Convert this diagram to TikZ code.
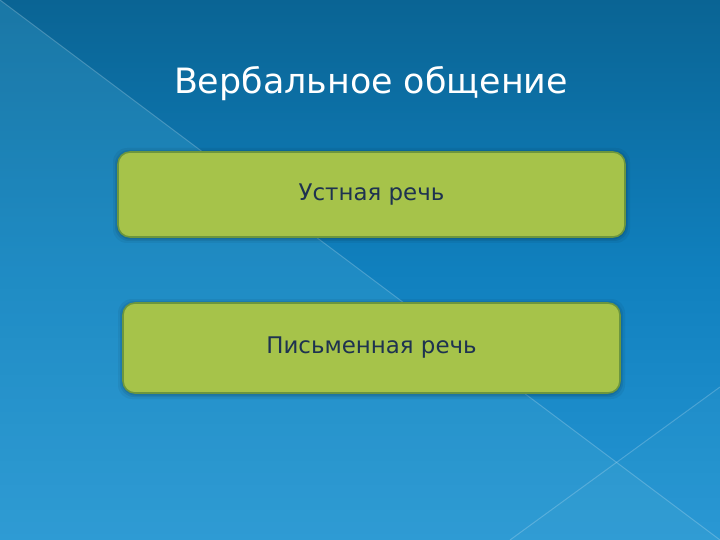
\documentclass[tikz,border=0pt]{standalone}
\usepackage{fontspec}
\setmainfont{DejaVu Sans}
\definecolor{bgtop}{RGB}{10,100,148}
\definecolor{bgmid}{RGB}{16,128,190}
\definecolor{bgbot}{RGB}{38,150,212}
\definecolor{veil}{RGB}{70,170,212}
\definecolor{boxfill}{RGB}{166,195,74}
\definecolor{boxline}{RGB}{108,150,62}
\definecolor{boxtext}{RGB}{30,50,80}
\tikzset{
  itembox/.style={draw=boxline, line width=1.6bp, fill=boxfill, rounded corners=12bp, inner sep=0pt},
  itemtext/.style={text=boxtext, font=\fontsize{23}{27}\selectfont},
  titletext/.style={text=white, font=\fontsize{35}{42}\selectfont},
  glint/.style={draw=white, draw opacity=0.2, line width=1bp}
}
\begin{document}
\begin{tikzpicture}[x=1bp,y=-1bp]
\useasboundingbox (0,0) rectangle (720,540);
% background
\shade[top color=bgtop, bottom color=bgbot, middle color=bgmid] (0,0) rectangle (720,540);
\fill[veil, opacity=0.28] (0,0) -- (720,540) -- (0,540) -- cycle;
\fill[veil, opacity=0.12] (720,387) -- (510,540) -- (720,540) -- cycle;
\coordinate (d1a) at (0,0);
\coordinate (d1b) at (720,540);
\coordinate (d2a) at (720,387);
\coordinate (d2b) at (510,540);
\draw[glint] (d1a) -- (d1b);
\draw[glint] (d2a) -- (d2b);
% title
\node[titletext] (title) at (371,84) {Вербальное общение};
% shadows
\foreach \s/\o in {5/0.05,3/0.07,1.5/0.09}{
  \fill[black, opacity=\o, rounded corners=14bp] (118-\s,152-\s+1) rectangle (625+\s,237+\s+1);
  \fill[black, opacity=\o, rounded corners=14bp] (123-\s,303-\s+1) rectangle (620+\s,393+\s+1);
}
% boxes
\node[itembox, minimum width=507bp, minimum height=85bp] (oral) at (371.5,194.5) {};
\node[itemtext] (oraltext) at (oral.center) {Устная речь};
\node[itembox, minimum width=497bp, minimum height=90bp] (written) at (371.5,348) {};
\node[itemtext] (writtentext) at (written.center) {Письменная речь};
\end{tikzpicture}
\end{document}
